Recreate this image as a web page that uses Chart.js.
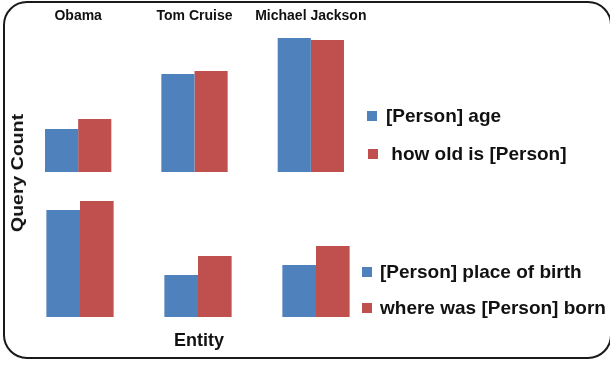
<!DOCTYPE html>
<html>
<head>
<meta charset="utf-8">
<script src="https://cdn.jsdelivr.net/npm/chart.js@4"></script>
<style>
  body { margin: 0; background: #fff; font-family: "Liberation Sans", Arial, sans-serif; }
  #wrap { position: relative; width: 610px; height: 365px; overflow: hidden; }
  #frame { position: absolute; left: 3px; top: 1px; width: 605px; height: 354px;
           border: 2px solid #1a1a1a; border-radius: 24px; }
  .box { position: absolute; left: 0; width: 400px; }
  #topBox { top: 0; height: 175px; }
  #bottomBox { top: 173px; height: 152px; }
  .ytitle { position: absolute; left: 18px; top: 173px;
            transform: translate(-50%, -50%) rotate(-90deg) scaleX(1.22);
            font-weight: bold; font-size: 16px; color: #111; white-space: nowrap; }
  .xtitle { position: absolute; left: 199px; top: 340px; transform: translate(-50%, -50%);
            font-weight: bold; font-size: 18px; color: #111; }
  .legend { position: absolute; font-weight: bold; font-size: 19px; color: #111; }
  .item { position: absolute; white-space: nowrap; height: 20px; line-height: 20px; }
  .item span.sw { position: absolute; top: 5px; width: 10px; height: 10px; }
</style>
</head>
<body>
<div id="wrap">
  <div id="frame"></div>
  <div class="box" id="topBox"><canvas id="topChart"></canvas></div>
  <div class="box" id="bottomBox"><canvas id="bottomChart"></canvas></div>
  <div class="ytitle">Query Count</div>
  <div class="xtitle">Entity</div>
  <div class="legend" id="legendTop"></div>
  <div class="legend" id="legendBottom"></div>
</div>
<script>
const entities = ["Obama", "Tom Cruise", "Michael Jackson"];

// age queries
const ageLabels = ["[Person] age", " how old is [Person]"];
const personAge = [43, 98, 134];
const howOldIs = [53, 101, 132];

// birthplace queries
const birthLabels = ["[Person] place of birth", "where was [Person] born"];
const placeOfBirth = [107, 42, 52];
const whereWasBorn = [116, 61, 71];

const blue = "#4F81BD";
const red = "#C0504D";
const yMax = 144;

function makeChart(id, values, labels, showNames, padding) {
    const xAxis = {
        display: showNames,
        position: "top",
        grid: { display: false, drawTicks: false },
        border: { display: false },
        ticks: {
            padding: 3,
            maxRotation: 0,
            minRotation: 0,
            autoSkip: false,
            color: "#111",
            font: { family: "Liberation Sans", size: 14, weight: "bold" }
        }
    };
    // fixed band for the names so the plot area starts at a known row
    if (showNames) {
        xAxis.afterFit = axis => { axis.height = 28; };
    }

    return new Chart(document.getElementById(id), {
        type: "bar",
        data: {
            labels: entities,
            datasets: [{
                label: labels[0],
                data: values[0],
                backgroundColor: blue
            }, {
                label: labels[1],
                data: values[1],
                backgroundColor: red
            }]
        },
        options: {
            responsive: true,
            maintainAspectRatio: false,
            animation: false,
            layout: { padding: padding },
            datasets: {
                bar: { barPercentage: 1, categoryPercentage: 0.57 }
            },
            plugins: {
                legend: { display: false },
                tooltip: { enabled: false }
            },
            scales: {
                x: xAxis,
                y: {
                    display: false,
                    min: 0,
                    max: yMax
                }
            }
        }
    });
}

makeChart("topChart", [personAge, howOldIs], ageLabels, true,
    { left: 20, right: 31, top: 0, bottom: 3 });
makeChart("bottomChart", [placeOfBirth, whereWasBorn], birthLabels, false,
    { left: 21, right: 25, top: 0, bottom: 8 });

// side legends
function buildLegend(elId, labels, spots) {
    const el = document.getElementById(elId);
    labels.forEach((text, i) => {
        const item = document.createElement("div");
        item.className = "item";
        item.style.left = spots[i].x + "px";
        item.style.top = spots[i].y + "px";
        const sw = document.createElement("span");
        sw.className = "sw";
        sw.style.left = (spots[i].sx - spots[i].x) + "px";
        sw.style.background = i == 0 ? blue : red;
        const label = document.createElement("span");
        label.textContent = text;
        label.style.whiteSpace = "pre";
        label.style.position = "absolute";
        label.style.left = "0px";
        item.appendChild(sw);
        item.appendChild(label);
        el.appendChild(item);
    });
}

buildLegend("legendTop", ageLabels, [
    { sx: 367, x: 386, y: 106 },
    { sx: 368, x: 386, y: 144 }
]);
buildLegend("legendBottom", birthLabels, [
    { sx: 362, x: 380, y: 262 },
    { sx: 362, x: 380, y: 298 }
]);
</script>
</body>
</html>
